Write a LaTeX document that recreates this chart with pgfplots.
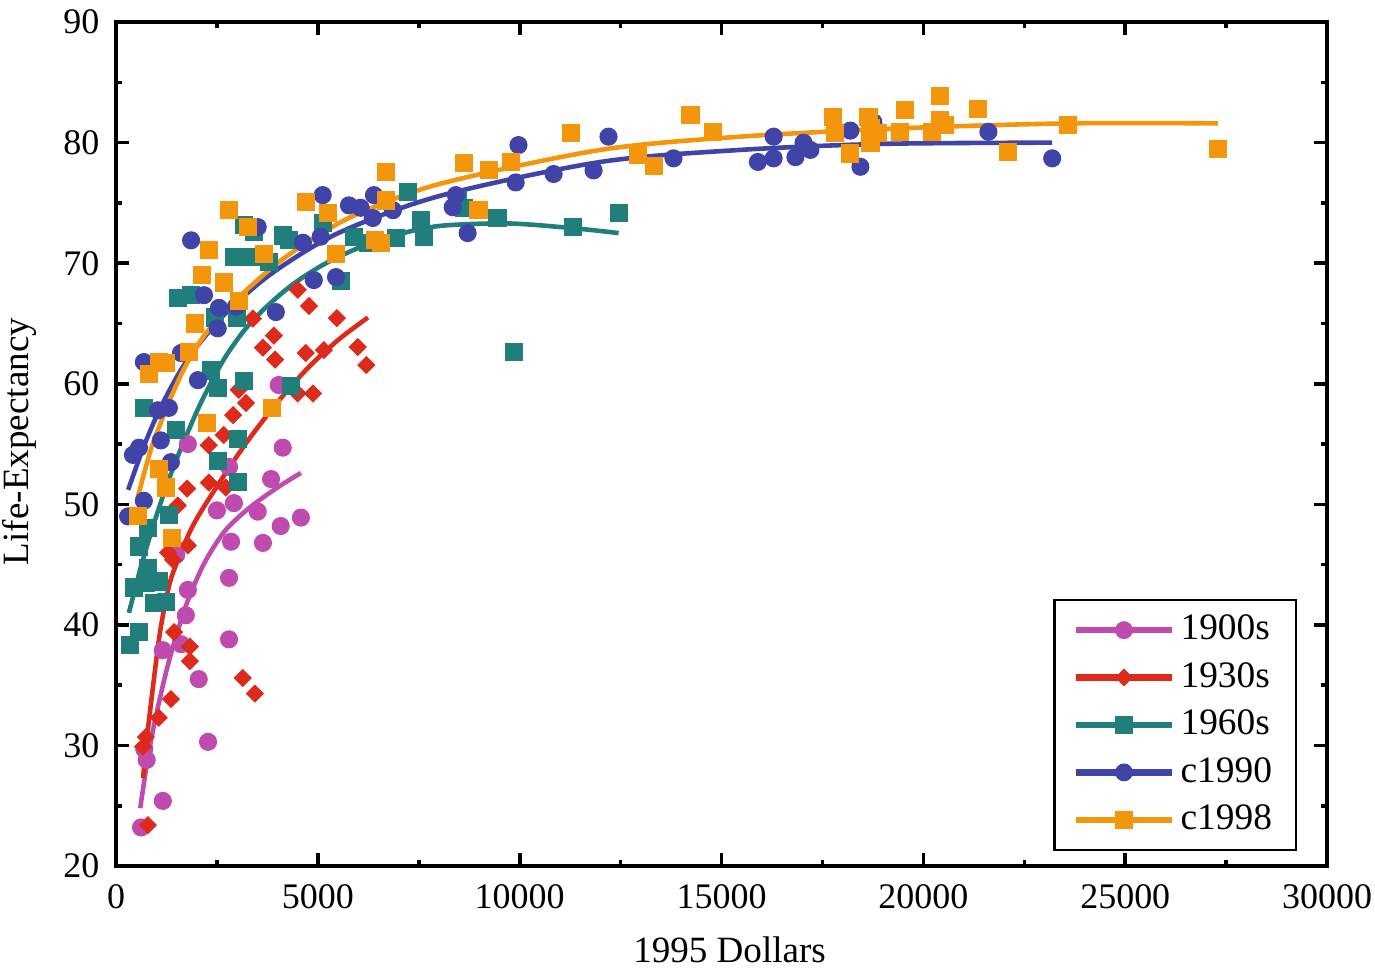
\documentclass[border=0pt]{standalone}
\usepackage{fontspec}
\setmainfont{Liberation Serif}
\usepackage{pgfplots}
\pgfplotsset{compat=1.18}
\definecolor{cA}{RGB}{191,75,175}
\definecolor{cB}{RGB}{221,42,27}
\definecolor{cC}{RGB}{32,127,122}
\definecolor{cD}{RGB}{64,68,168}
\definecolor{cE}{RGB}{243,150,12}
\pgfplotsset{mylegend/.style={legend image code/.code={
  \draw[line width=2.3bp, mark=none, solid] (0bp,0bp) -- (34.5bp,0bp);
  \draw[only marks, line width=0.3bp] plot coordinates {(17.25bp,0bp)};
}}}
\begin{document}
\fontsize{13}{15}\selectfont
\begin{tikzpicture}
\begin{axis}[
  name=ax,
  scale only axis,
  width=436bp, height=303.8bp,
  xmin=0, xmax=30000, ymin=20, ymax=90,
  xtick={0,5000,...,30000},
  ytick={20,30,...,90},
  minor x tick num=1, minor y tick num=1,
  tick align=inside,
  major tick length=4.7bp, minor tick length=2.3bp,
  axis line style={line width=1.3bp},
  every tick/.style={line width=1.3bp, black},
  scaled ticks=false,
  /pgf/number format/assume math mode=true,
  /pgf/number format/set thousands separator={},
  ticklabel style={font=\fontsize{13}{15}\selectfont},
  xticklabel style={anchor=center, yshift=-11.2bp, inner sep=0pt},
  yticklabel style={anchor=east, xshift=-5.8bp, inner sep=0pt},
  xlabel={1995 Dollars}, ylabel={Life-Expectancy},
  label style={font=\fontsize{13.4}{15}\selectfont},
  xlabel style={at={(axis description cs:0.5066,-0.0994)}, anchor=center, inner sep=0pt},
  ylabel style={at={(axis description cs:-0.0794,0.503)}, anchor=center, inner sep=0pt},
  legend style={at={(axis description cs:0.975,0.3164)}, anchor=north east,
    draw=black, line width=0.75bp, fill=white,
    font=\fontsize{13.5}{15}\selectfont, row sep=2.2bp, inner xsep=6.6bp, inner ysep=3.4bp},
  legend cell align=left,
]
% ---------- 1900s
\addplot[only marks, mark=*, color=cA, mark size=3.06bp, mylegend] table {
620 23.2
1160 25.4
760 28.8
700 29.7
2050 35.5
2280 30.3
1160 37.9
1610 38.4
2800 38.8
1730 40.8
1780 42.9
2800 43.9
2850 46.9
3640 46.8
4580 48.9
4080 48.2
2500 49.5
3510 49.4
2920 50.1
3840 52.1
2800 53.1
4130 54.7
1780 55.0
4030 59.9
1490 45.8
};
\addlegendentry{1900s}
\addplot[forget plot, color=cA, line width=1.65bp, smooth] table {
600 24.8
800 29.2
1000 32.6
1250 36.2
1500 39.2
1800 42.2
2200 45.2
2700 47.8
3300 49.7
4000 51.4
4580 52.6
};
% ---------- 1930s
\addplot[only marks, mark=square*, mark options={rotate=45}, color=cB, mark size=2.12bp, mylegend] table {
790 23.4
670 29.9
740 30.7
1060 32.3
1360 33.85
1830 38.2
1830 37.0
3140 35.6
3440 34.3
1440 39.4
1760 51.3
2300 51.8
2720 51.4
1530 49.9
1780 46.6
1290 46.0
1410 45.4
2300 54.9
2670 55.75
2900 57.4
3040 59.5
3220 58.4
4500 59.2
4880 59.2
3640 63.0
3940 62.0
4700 62.55
5150 62.8
5990 63.05
6200 61.55
3390 65.4
3910 64.0
5470 65.45
4500 67.8
4780 66.45
};
\addlegendentry{1930s}
\addplot[forget plot, color=cB, line width=1.65bp, smooth] table {
670 27.3
790 31.3
1060 38.7
1240 42.1
1410 44.3
1900 48.2
2600 52.0
3270 55.3
4010 58.5
4750 61.3
5490 63.6
6240 65.5
};
% ---------- 1960s
\addplot[only marks, mark=square*, color=cC, mark size=3.06bp, mylegend] table {
350 38.3
570 39.4
450 43.1
740 43.5
790 44.7
940 41.8
1060 43.6
1240 41.9
570 46.5
790 48.0
1310 49.1
690 58.0
1490 56.2
1530 67.1
1860 67.35
2350 61.1
2520 59.65
2520 53.6
3020 55.4
3020 51.85
3170 60.2
2450 65.5
3000 65.5
2920 70.5
3340 70.5
3790 70.1
3170 73.2
3420 72.6
4130 72.3
4280 71.9
4330 59.8
5120 73.3
5570 68.5
5890 72.2
6240 71.7
6930 72.1
7230 75.9
7550 73.6
7620 72.2
8460 75.2
8610 74.6
9450 73.75
9850 62.6
11310 73.0
12450 74.2
};
\addlegendentry{1960s}
\addplot[forget plot, color=cC, line width=1.65bp, smooth] table {
320 41.0
600 44.6
900 48.0
1290 51.9
1680 55.2
2100 58.4
2650 61.9
3170 64.4
3700 66.3
4400 68.3
5200 70.0
6100 71.4
7000 72.4
8040 73.1
9700 73.3
11340 72.9
12450 72.5
};
% ---------- c1990
\addplot[only marks, mark=*, color=cD, mark size=3.06bp, mylegend] table {
300 49.0
690 50.3
420 54.1
570 54.7
1110 55.3
1360 53.5
1040 57.8
1310 58.0
690 61.8
1610 62.55
2030 60.3
1860 71.9
2180 67.35
2550 66.3
2520 64.6
2970 66.4
3270 73.0
3510 73.0
3960 65.95
4900 68.6
5450 68.85
4630 71.7
5070 72.2
5120 75.65
5770 74.8
6060 74.6
6360 73.75
6860 74.4
6390 75.65
8420 75.65
8340 74.65
8710 72.5
9900 76.7
9970 79.8
10840 77.4
11830 77.7
12200 80.5
13810 78.7
15900 78.4
16290 78.7
16290 80.5
16830 78.8
17200 79.4
17030 80.0
18190 81.0
18760 81.7
18440 78.0
21610 80.9
23190 78.7
};
\addlegendentry{c1990}
\addplot[forget plot, color=cD, line width=1.65bp, smooth] table {
300 51.2
700 54.9
1100 58.0
1600 61.1
2100 63.5
2850 66.3
3960 69.4
5570 72.6
8040 75.6
12000 78.4
15470 79.4
19000 79.9
23190 80.0
};
% ---------- c1998
\addplot[only marks, mark=square*, color=cE, mark size=3.06bp, mylegend] table {
540 49.0
1060 52.9
1240 51.4
1390 47.2
820 60.8
1060 61.8
1240 61.7
1810 62.6
1960 65.0
2130 69.0
2300 71.1
2800 74.4
2670 68.4
3040 66.9
3270 73.0
3660 70.8
3860 58.0
2250 56.75
4700 75.1
5250 74.2
5450 70.8
6410 71.9
6560 71.7
6680 77.55
6680 75.2
8610 78.3
8980 74.4
9230 77.7
9780 78.4
11260 80.8
12920 79.0
13320 78.05
14230 82.3
14780 80.9
17770 82.1
17800 80.8
18190 79.1
18640 82.1
18690 81.2
18690 80.0
18880 80.8
19430 80.9
19550 82.7
20220 80.9
20420 83.9
20420 81.9
20540 81.5
21360 82.8
22100 79.2
23590 81.5
27300 79.5
};
\addlegendentry{c1998}
\addplot[forget plot, color=cE, line width=1.65bp, smooth] table {
540 50.6
870 54.6
1290 58.3
1680 61.2
2100 63.6
2520 65.4
2850 66.6
3960 69.9
5000 72.3
6060 74.2
8040 76.6
12000 79.4
15470 80.5
19500 81.2
23590 81.6
27300 81.6
};
\end{axis}
\pgfresetboundingbox
\path[use as bounding box] (ax.south west) ++(-41.76bp,-39.24bp) rectangle ++(495bp,351bp);
\end{tikzpicture}
\end{document}
